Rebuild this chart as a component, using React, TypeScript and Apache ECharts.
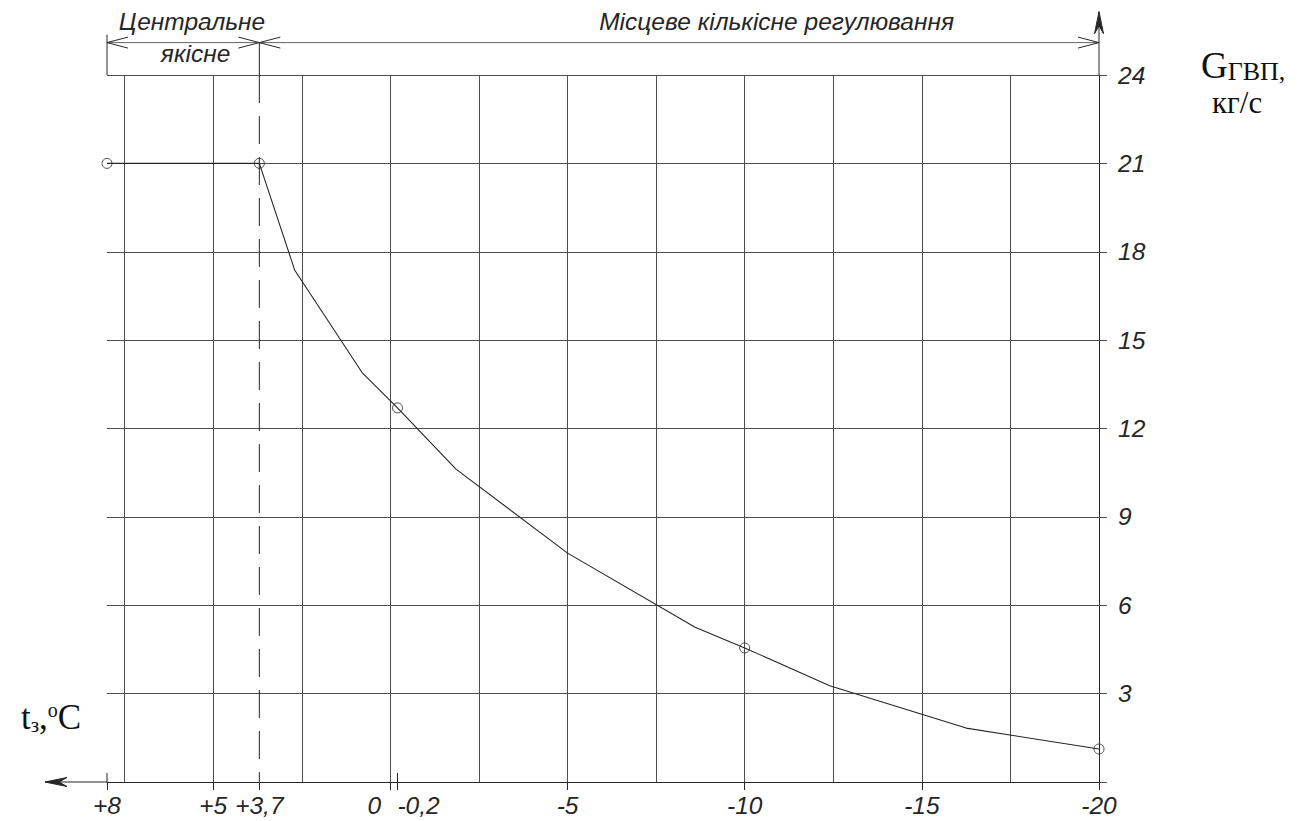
import React, { useEffect, useRef } from "react";
import * as echarts from "echarts";

// ---- data ----
const curveTemps = [8, 3.7, 2.7, 0.8, -0.2, -1.85, -5, -8.6, -10, -12.4, -16.25, -20];
const curveFlows = [21, 21, 17.37, 13.9, 12.7, 10.62, 7.77, 5.25, 4.55, 3.27, 1.83, 1.12];
const markedTemps = [8, 3.7, -0.2, -10, -20];
const markedFlows = [21, 21, 12.7, 4.55, 1.12];
const tempTickValues = [8, 5, 3.7, 0, -0.2, -5, -10, -15, -20];
const tempTickLabels = ["+8", "+5", "+3,7", "0", "-0,2", "-5", "-10", "-15", "-20"];
const regimeBoundary = 3.7;
const regimeLabels = ["Центральне", "якісне", "Місцеве кількісне регулювання"];
const flowTitleMain = "G";
const flowTitleSub = "ГВП,";
const flowUnit = "кг/с";

// ---- axis ranges ----
const T_MIN = -20;
const T_MAX = 8;
const G_MIN = 0;
const G_MAX = 24;

// ---- annotation levels (in data units, outside the plot) ----
const DIM_LEVEL = 25.1;
const BOX_TOP_LEVEL = 25.37;
const TEXT_UPPER_LEVEL = 25.8;
const TEXT_LOWER_LEVEL = 24.73;
const Y_ARROW_LEVEL = 26.15;
const X_ARROW_TEMP = 9.75;

const INK = "#262626";
const GRID = "#4d4d4d";
const SANS = '"Liberation Sans", Arial, sans-serif';
const SERIF = '"Liberation Serif", "Times New Roman", serif';
const FS = 24.5;

function labelFor(v: number): string {
  const i = tempTickValues.findIndex((t) => Math.abs(t - v) < 1e-6);
  if (i < 0) return "";
  const s = tempTickLabels[i];
  if (tempTickValues[i] === 0) return "{l|" + s + "}";
  if (Math.abs(tempTickValues[i] + 0.2) < 1e-6) return "{r|" + s + "}";
  return "{n|" + s + "}";
}

function annotationRender(_params: any, api: any) {
  const P = (x: number, y: number) => api.coord([x, y]);
  const seg = (a: number[], b: number[], extra: any = {}) => ({
    type: "line",
    shape: { x1: a[0], y1: a[1], x2: b[0], y2: b[1] },
    style: { stroke: INK, lineWidth: 1, ...extra },
    silent: true,
  });
  const AL = 21;
  const AW = 5.5;
  const vee = (tip: number[], dir: number) => ({
    type: "polyline",
    shape: {
      points: [
        [tip[0] - dir * AL, tip[1] - AW],
        [tip[0], tip[1]],
        [tip[0] - dir * AL, tip[1] + AW],
      ],
    },
    style: { stroke: INK, lineWidth: 1, fill: "none" },
    silent: true,
  });
  const children: any[] = [];
  const dimL = P(T_MAX, DIM_LEVEL);
  const dimM = P(regimeBoundary, DIM_LEVEL);
  const dimR = P(T_MIN, DIM_LEVEL);
  children.push(seg(dimL, dimR, { stroke: "#666" }));
  children.push(seg(P(T_MAX, BOX_TOP_LEVEL), P(T_MAX, G_MAX)));
  children.push(seg(dimM, P(regimeBoundary, G_MAX)));
  children.push(seg(P(regimeBoundary, G_MAX), P(regimeBoundary, G_MIN), { lineDash: [28, 13] }));
  children.push(vee(dimL, -1));
  children.push(vee(dimM, 1));
  children.push(vee(dimM, -1));
  children.push(vee(dimR, 1));

  // y axis extension with arrow
  const yBase = P(T_MIN, G_MAX);
  const yTop = P(T_MIN, Y_ARROW_LEVEL);
  children.push(seg(yBase, yTop));
  children.push({
    type: "polygon",
    shape: {
      points: [
        [yTop[0], yTop[1]],
        [yTop[0] - 4.5, yTop[1] + 22],
        [yTop[0], yTop[1] + 14],
        [yTop[0] + 4.5, yTop[1] + 22],
      ],
    },
    style: { fill: INK, stroke: INK, lineWidth: 1 },
    silent: true,
  });

  // x axis extension with arrow
  const xBase = P(T_MAX, G_MIN);
  const xTip = P(X_ARROW_TEMP, G_MIN);
  children.push(seg(xBase, xTip));
  children.push({
    type: "polygon",
    shape: {
      points: [
        [xTip[0], xTip[1]],
        [xTip[0] + 22, xTip[1] - 4.5],
        [xTip[0] + 14, xTip[1]],
        [xTip[0] + 22, xTip[1] + 4.5],
      ],
    },
    style: { fill: INK, stroke: INK, lineWidth: 1 },
    silent: true,
  });

  // upper halves of the crossing ticks
  [T_MAX, -0.2].forEach((v) => {
    const p = P(v, G_MIN);
    children.push(seg(p, [p[0], p[1] - 9]));
  });

  // regime texts
  const txt = (p: number[], s: string) => ({
    type: "text",
    x: p[0],
    y: p[1],
    style: {
      text: s,
      fontSize: FS,
      fontStyle: "italic",
      fontFamily: SANS,
      fill: INK,
      align: "center",
      verticalAlign: "middle",
    },
    silent: true,
  });
  children.push(txt(P(5.6, TEXT_UPPER_LEVEL), regimeLabels[0]));
  children.push(txt(P(5.5, TEXT_LOWER_LEVEL), regimeLabels[1]));
  children.push(txt(P(-10.9, TEXT_UPPER_LEVEL), regimeLabels[2]));

  return { type: "group", children };
}

export default function App() {
  const ref = useRef<HTMLDivElement>(null);
  useEffect(() => {
    if (!ref.current) return;
    const chart = echarts.init(ref.current, undefined, { renderer: "svg" });
    const labelBase = { fontSize: FS, fontStyle: "italic", fontFamily: SANS, color: INK };
    chart.setOption({
      animation: false,
      backgroundColor: "#ffffff",
      grid: { left: 107, right: 203, top: 75, bottom: 39, containLabel: false, outerBoundsMode: "none" },
      xAxis: [
        {
          type: "value",
          position: "top",
          inverse: true,
          min: T_MIN,
          max: T_MAX,
          interval: 2.5,
          axisLine: { show: false },
          axisTick: { show: false },
          axisLabel: { show: false },
          splitLine: { show: true, showMaxLine: false, lineStyle: { color: GRID, width: 1 } },
        },
        {
          type: "value",
          position: "bottom",
          inverse: true,
          min: T_MIN,
          max: T_MAX,
          interval: 2.5,
          axisLine: { show: true, onZero: false, lineStyle: { color: INK, width: 1 } },
          axisTick: { show: true, length: 8, customValues: tempTickValues, lineStyle: { color: INK, width: 1 } },
          axisLabel: {
            show: true,
            margin: 11,
            hideOverlap: false,
            customValues: tempTickValues,
            formatter: (v: number) => labelFor(v),
            rich: {
              n: { ...labelBase },
              l: { ...labelBase, padding: [0, 32, 0, 0] },
              r: { ...labelBase, padding: [0, 0, 0, 42] },
            },
          },
          splitLine: { show: false },
        },
      ],
      yAxis: {
        type: "value",
        position: "right",
        min: G_MIN,
        max: G_MAX,
        interval: 3,
        axisLine: { show: true, onZero: false, lineStyle: { color: INK, width: 1 } },
        axisTick: { show: true, length: 8, lineStyle: { color: GRID, width: 1 } },
        axisLabel: {
          ...labelBase,
          margin: 19,
          formatter: (v: number) => (v === 0 ? "" : String(v)),
        },
        splitLine: { show: true, lineStyle: { color: GRID, width: 1 } },
      },
      series: [
        {
          type: "custom",
          coordinateSystem: "cartesian2d",
          xAxisIndex: 0,
          yAxisIndex: 0,
          clip: false,
          silent: true,
          z: 3,
          data: [[0, 0]],
          renderItem: annotationRender,
        },
        {
          type: "line",
          xAxisIndex: 0,
          yAxisIndex: 0,
          data: curveTemps.map((t, i) => [t, curveFlows[i]]),
          symbol: "none",
          lineStyle: { color: INK, width: 1.1 },
          silent: true,
          z: 4,
        },
        {
          type: "scatter",
          xAxisIndex: 0,
          yAxisIndex: 0,
          data: markedTemps.map((t, i) => [t, markedFlows[i]]),
          symbol: "circle",
          symbolSize: 10,
          itemStyle: { color: "rgba(255,255,255,0)", borderColor: INK, borderWidth: 1 },
          silent: true,
          z: 5,
        },
      ],
      graphic: [
        {
          type: "text",
          left: 1201,
          top: 47,
          silent: true,
          style: {
            text: "{g|" + flowTitleMain + "}{s|" + flowTitleSub + "}",
            rich: {
              g: { fontSize: 37, fontFamily: SERIF, fill: "#111" },
              s: { fontSize: 26, fontFamily: SERIF, fill: "#111", verticalAlign: "bottom" },
            },
          },
        },
        {
          type: "text",
          left: 1212,
          top: 87,
          silent: true,
          style: { text: flowUnit, fontSize: 31, fontFamily: SERIF, fill: "#111" },
        },
        {
          type: "text",
          left: 21,
          top: 700,
          silent: true,
          style: {
            text: "{t|t}{s|з}{t|,}{o|o}{t|C}",
            rich: {
              t: { fontSize: 35, fontFamily: SERIF, fill: "#111" },
              s: { fontSize: 21, fontFamily: SERIF, fill: "#111", verticalAlign: "bottom" },
              o: { fontSize: 20, fontFamily: SERIF, fill: "#111", verticalAlign: "top" },
            },
          },
        },
      ],
    });
    return () => chart.dispose();
  }, []);
  return (
    <div
      ref={ref}
      style={{ position: "fixed", left: 0, top: 0, width: 1302, height: 821, background: "#fff" }}
    />
  );
}
